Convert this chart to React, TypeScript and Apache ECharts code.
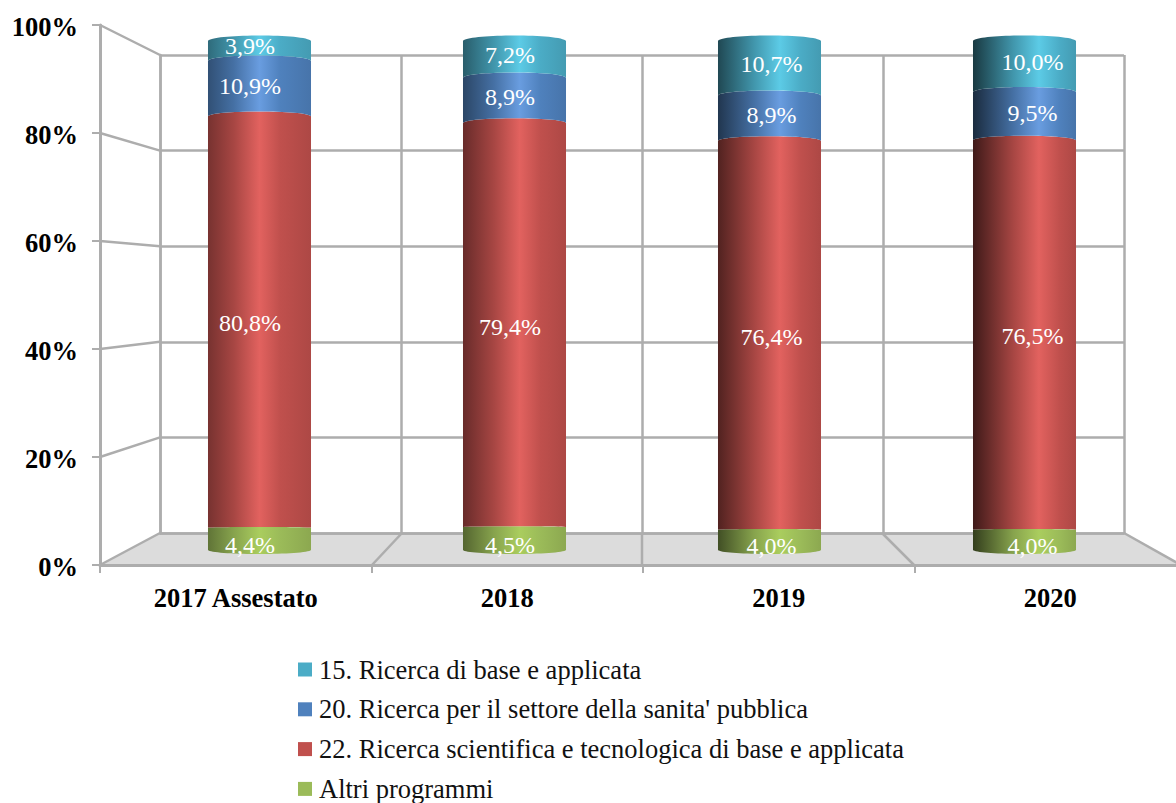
import React, { useEffect, useRef } from "react";
import * as echarts from "echarts";

const categories = ["2017 Assestato", "2018", "2019", "2020"];
const altri = [4.4, 4.5, 4.0, 4.0];
const ricerca22 = [80.8, 79.4, 76.4, 76.5];
const ricerca20 = [10.9, 8.9, 8.9, 9.5];
const ricerca15 = [3.9, 7.2, 10.7, 10.0];
const names = [
  "15. Ricerca di base e applicata",
  "20. Ricerca per il settore della sanita' pubblica",
  "22. Ricerca scientifica e tecnologica di base e applicata",
  "Altri programmi",
];
const yTicks = [0, 20, 40, 60, 80, 100];

const FONT = "Liberation Serif";
const GRID = "#adadad";

// Outer axes frame, back wall frame, cylinder frame, y label frame
const OUTER = { left: 100, top: 25, width: 1086, height: 540 };
const WALL = { left: 160, top: 55, width: 964, height: 478 };
const BARS = { left: 132, top: 41, width: 1020, height: 509 };
const LABELS = { left: 100, top: 27, width: 1086, height: 540 };

const fmt = (v: number) => v.toFixed(1).replace(".", ",") + "%";

// Shading per category, since the 3D light comes from a fixed point
const edgeShade = [0.62, 0.54, 0.42, 0.33];
const hilitePos = [0.5, 0.55, 0.6, 0.64];
const labelDx = [-9.5, -4.5, 2, 8];

function shade(hex: string, k: number) {
  const n = parseInt(hex.slice(1), 16);
  const c = [(n >> 16) & 255, (n >> 8) & 255, n & 255].map((x) => Math.round(x * k));
  return `rgb(${c[0]},${c[1]},${c[2]})`;
}

const bulge = (v: number) => (v <= 0.001 ? -4 : 0.5 + (5 * v) / 100);

function makeSeries(name: string, base: string, hi: string, labelDy: number, rows: number[][]) {
  return {
    name,
    type: "custom",
    xAxisIndex: 2,
    yAxisIndex: 2,
    clip: false,
    z: 5,
    itemStyle: { color: base },
    data: rows,
    renderItem: (_p: any, api: any) => {
      const cat = api.value(0);
      const low = api.value(1);
      const high = api.value(2);
      const val = api.value(3);
      const [cx, yLow] = api.coord([cat, low]);
      const [, yHigh] = api.coord([cat, high]);
      const w = api.size([1, 0])[0] * 0.404;
      const x0 = cx - w / 2;
      const x1 = cx + w / 2;
      const bT = (bulge(high) * 4) / 3;
      const bB = (bulge(low) * 4) / 3;
      const d =
        `M${x0} ${yHigh} C${x0 + 4} ${yHigh - bT} ${x1 - 4} ${yHigh - bT} ${x1} ${yHigh} ` +
        `L${x1} ${yLow} C${x1 - 4} ${yLow - bB} ${x0 + 4} ${yLow - bB} ${x0} ${yLow} Z`;
      const fill = new echarts.graphic.LinearGradient(0, 0, 1, 0, [
        { offset: 0, color: shade(base, edgeShade[cat]) },
        { offset: hilitePos[cat] - 0.25, color: shade(base, 0.87) },
        { offset: hilitePos[cat], color: hi },
        { offset: hilitePos[cat] + 0.2, color: base },
        { offset: 1, color: shade(base, 0.9) },
      ]);
      return {
        type: "group",
        children: [
          { type: "path", shape: { pathData: d }, style: { fill } },
          {
            type: "text",
            z2: 10,
            style: {
              x: cx + labelDx[cat],
              y: (yLow + yHigh) / 2 + labelDy,
              text: fmt(val),
              fill: "#ffffff",
              font: `24px "${FONT}"`,
              align: "center",
              verticalAlign: "middle",
            },
          },
        ],
      };
    },
  };
}

function stackRows() {
  const rows: Record<string, number[][]> = { a: [], r22: [], r20: [], r15: [] };
  categories.forEach((_, i) => {
    let s = 0;
    const push = (key: string, v: number, last = false) => {
      const hi = last ? 100 : s + v;
      rows[key].push([i, s, hi, v]);
      s += v;
    };
    push("a", altri[i]);
    push("r22", ricerca22[i]);
    push("r20", ricerca20[i]);
    push("r15", ricerca15[i], true);
  });
  return rows;
}

export default function App() {
  const ref = useRef<HTMLDivElement>(null);
  useEffect(() => {
    const chart = echarts.init(ref.current!, undefined, { renderer: "svg" });
    const rows = stackRows();
    const yOuter = (v: number) => OUTER.top + OUTER.height * (1 - v / 100);
    const yWall = (v: number) => WALL.top + WALL.height * (1 - v / 100);
    const line = (x1: number, y1: number, x2: number, y2: number) => ({
      type: "line",
      z: 1,
      shape: { x1, y1, x2, y2 },
      style: { stroke: GRID, lineWidth: 2.5 },
    });
    const wallRight = WALL.left + WALL.width;
    const base = OUTER.top + OUTER.height;
    const floorBack = WALL.top + WALL.height;
    const yAxisCommon = { type: "value", min: 0, max: 100, interval: 20 };
    chart.setOption({
      animation: false,
      backgroundColor: "#ffffff",
      textStyle: { fontFamily: FONT },
      grid: [{ ...OUTER }, { ...WALL }, { ...BARS }, { ...LABELS }],
      xAxis: [
        {
          type: "category",
          gridIndex: 0,
          data: categories,
          axisLine: { lineStyle: { color: GRID, width: 3 } },
          axisTick: { show: true, length: 8, lineStyle: { color: GRID, width: 2 } },
          axisLabel: {
            margin: 19,
            interval: 0,
            color: "#000",
            fontFamily: FONT,
            fontSize: 26.5,
            fontWeight: "bold",
          },
        },
        {
          type: "category",
          gridIndex: 1,
          data: categories,
          axisLine: { show: true, lineStyle: { color: GRID, width: 2.5 } },
          axisTick: { show: false },
          axisLabel: { show: false },
          splitLine: { show: true, interval: 0, lineStyle: { color: GRID, width: 2.5 } },
        },
        { type: "category", gridIndex: 2, data: categories, show: false },
        { type: "category", gridIndex: 3, data: categories, show: false },
      ],
      yAxis: [
        {
          ...yAxisCommon,
          gridIndex: 0,
          axisLine: { show: true, lineStyle: { color: GRID, width: 3 } },
          axisTick: { show: true, length: 8, lineStyle: { color: GRID, width: 2 } },
          splitLine: { show: false },
          axisLabel: { show: false },
        },
        {
          ...yAxisCommon,
          gridIndex: 1,
          axisLine: { show: true, lineStyle: { color: GRID, width: 2.5 } },
          axisTick: { show: false },
          axisLabel: { show: false },
          splitLine: { show: true, lineStyle: { color: GRID, width: 2.5 } },
        },
        { ...yAxisCommon, gridIndex: 2, show: false, splitLine: { show: false } },
        {
          ...yAxisCommon,
          gridIndex: 3,
          axisLine: { show: false },
          axisTick: { show: false },
          splitLine: { show: false },
          axisLabel: {
            formatter: "{value}%",
            margin: 22,
            color: "#000",
            fontFamily: FONT,
            fontSize: 26.5,
            fontWeight: "bold",
          },
        },
      ],
      legend: {
        orient: "vertical",
        left: 298,
        top: 656,
        height: 200,
        padding: 0,
        itemWidth: 14,
        itemHeight: 14,
        itemGap: 12.8,
        icon: "rect",
        data: names,
        textStyle: {
          color: "#111",
          fontFamily: FONT,
          fontSize: 26.5,
          lineHeight: 27,
          padding: [0, 0, 0, 2],
        },
      },
      graphic: [
        {
          type: "polygon",
          z: -1,
          shape: {
            points: [
              [OUTER.left, base],
              [WALL.left, floorBack],
              [wallRight, floorBack],
              [1181, base],
            ],
          },
          style: { fill: "#dcdcdc" },
        },
        ...yTicks.map((v) => line(OUTER.left, yOuter(v), WALL.left, yWall(v))),
        line(wallRight, floorBack, 1181, base),
        line(372, base, 402, floorBack),
        line(642, base, 642, floorBack),
        line(914, base, 882, floorBack),
      ],
      series: [
        makeSeries(names[3], "#9BBB59", "#aacd5e", 6, rows.a),
        makeSeries(names[2], "#C0504D", "#e2625f", 1.5, rows.r22),
        makeSeries(names[1], "#4F81BD", "#699de0", -3, rows.r20),
        makeSeries(names[0], "#4BACC6", "#5ccbe6", -4.5, rows.r15),
      ],
    });
    return () => chart.dispose();
  }, []);
  return (
    <div style={{ position: "absolute", left: 0, top: 0, width: 1176, height: 803, overflow: "hidden" }}>
      <div ref={ref} style={{ width: 1220, height: 803 }} />
    </div>
  );
}
